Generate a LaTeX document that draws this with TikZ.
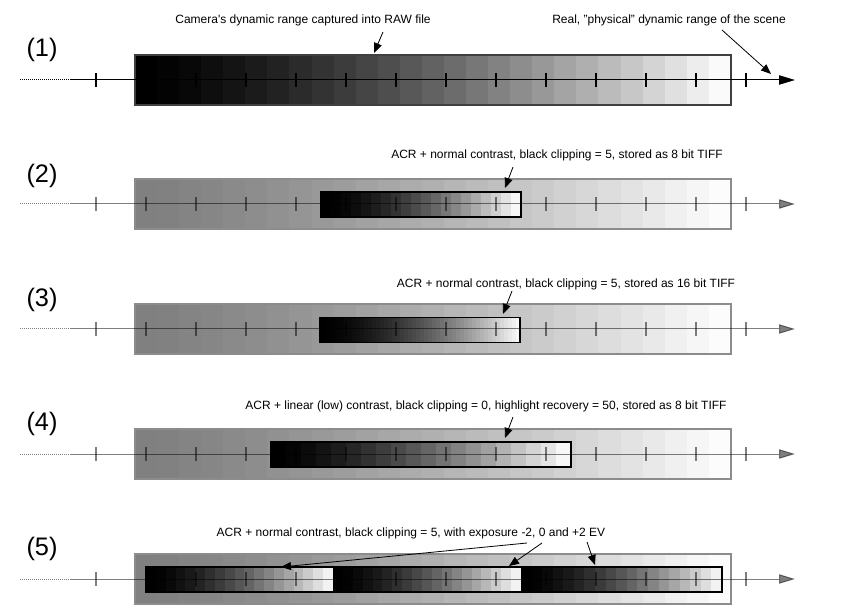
\documentclass[tikz,border=0pt]{standalone}
\usepackage{fontspec}
\setmainfont{Liberation Sans}
\usetikzlibrary{arrows.meta}

\tikzset{every picture/.style={line width=0.75pt}}
\tikzset{
  note/.style={inner sep=0.75pt, font=\fontsize{9}{11}\selectfont},
  rowlabel/.style={inner sep=0.75pt, font=\fontsize{19}{22}\selectfont},
  pointer/.style={-{Triangle[length=7.5pt,width=6pt]}, line width=0.6pt},
  axisline/.style={-{Triangle[length=12pt,width=7pt]}, line width=0.75pt},
  dotline/.style={dash pattern={on 0.75pt off 0.75pt}},
  tickmark/.style={line width=0.8pt},
  outerframe/.style={draw=black!45, line width=0.9pt},
  innerframe/.style={draw=black, line width=1pt},
}

\begin{document}
\begin{tikzpicture}[x=0.75pt,y=0.75pt,yscale=-1,xscale=1]
\useasboundingbox (0,0) rectangle (842,609);

%%%%%%%%%%%%%%%%%%%% Row (1)
% Bands
\foreach \i in {0,...,26}{
  \pgfmathsetmacro{\k}{100-98*((\i+0.001)/26)^1.35}
  \fill[black!\k] (135+22.07*\i,55) rectangle ({min(135+22.07*(\i+1)+0.6,731)},105);
}
\draw[draw=black!75, line width=1.1pt] (135,55) rectangle (731,105);
% Axis
\coordinate (dot1) at (20,80);
\coordinate (start1) at (70,80);
\coordinate (end1) at (795,80);
\draw[dotline] (dot1) -- (start1);
\draw[axisline] (start1) -- (end1);
\foreach \t in {0,...,13} \draw[tickmark, black] (96+50*\t,73) -- (96+50*\t,87);
% Text Node
\node[rowlabel] (lab1) at (42,50) {(1)};
\node[note] (camnote) at (303,20) {Camera\textquotesingle s dynamic range captured into RAW file};
\node[note] (realnote) at (669,20) {Real, "physical" dynamic range of the scene};
\coordinate (camtail) at (383,32);
\coordinate (camtip) at (374,53);
\coordinate (realtail) at (722,30);
\coordinate (realtip) at (771,74);
\draw[pointer] (camtail) -- (camtip);
\draw[pointer] (realtail) -- (realtip);

%%%%%%%%%%%%%%%%%%%% Row (2)
\foreach \i in {0,...,26}{
  \pgfmathsetmacro{\k}{50-49*((\i+0.001)/26)^1.35}
  \fill[black!\k] (135+22.07*\i,179) rectangle ({min(135+22.07*(\i+1)+0.6,731)},229);
}
\draw[outerframe] (135,179) rectangle (731,229);
\foreach \i in {0,...,19}{
  \pgfmathsetmacro{\k}{100-97*((\i+0.001)/19)^1.6}
  \fill[black!\k] (321+10*\i,192) rectangle ({min(321+10*(\i+1)+0.5,521)},217);
}
\draw[innerframe] (321,192) rectangle (521,217);
% Axis
\coordinate (dot2) at (20,204);
\coordinate (start2) at (70,204);
\coordinate (end2) at (795,204);
\draw[dotline, black!50] (dot2) -- (start2);
\draw[axisline, draw opacity=0.5, fill opacity=0.5] (start2) -- (end2);
\foreach \t in {0,...,13} \draw[tickmark, draw opacity=0.5] (96+50*\t,197) -- (96+50*\t,211);
% Text Node
\node[rowlabel] (lab2) at (42,176) {(2)};
\node[note] (note2) at (557,155) {ACR + normal contrast, black clipping = 5, stored as 8 bit TIFF};
\coordinate (tail2) at (513,167);
\coordinate (tip2) at (505,188);
\draw[pointer] (tail2) -- (tip2);

%%%%%%%%%%%%%%%%%%%% Row (3)
\foreach \i in {0,...,26}{
  \pgfmathsetmacro{\k}{50-49*((\i+0.001)/26)^1.35}
  \fill[black!\k] (135+22.07*\i,304) rectangle ({min(135+22.07*(\i+1)+0.6,731)},354);
}
\draw[outerframe] (135,304) rectangle (731,354);
\foreach \i in {0,...,49}{
  \pgfmathsetmacro{\k}{100-97*((\i+0.001)/49)^1.6}
  \fill[black!\k] (320+4*\i,317.5) rectangle ({min(320+4*(\i+1)+0.5,520)},342.5);
}
\draw[innerframe] (320,317.5) rectangle (520,342.5);
% Axis
\coordinate (dot3) at (20,329);
\coordinate (start3) at (70,329);
\coordinate (end3) at (795,329);
\draw[dotline, black!50] (dot3) -- (start3);
\draw[axisline, draw opacity=0.5, fill opacity=0.5] (start3) -- (end3);
\foreach \t in {0,...,13} \draw[tickmark, draw opacity=0.5] (96+50*\t,322) -- (96+50*\t,336);
% Text Node
\node[rowlabel] (lab3) at (42,300) {(3)};
\node[note] (note3) at (566,284) {ACR + normal contrast, black clipping = 5, stored as 16 bit TIFF};
\coordinate (tail3) at (512,291);
\coordinate (tip3) at (503,314);
\draw[pointer] (tail3) -- (tip3);

%%%%%%%%%%%%%%%%%%%% Row (4)
\foreach \i in {0,...,26}{
  \pgfmathsetmacro{\k}{50-49*((\i+0.001)/26)^1.35}
  \fill[black!\k] (135+22.07*\i,429) rectangle ({min(135+22.07*(\i+1)+0.6,731)},479);
}
\draw[outerframe] (135,429) rectangle (731,479);
\foreach \i in {0,...,19}{
  \pgfmathsetmacro{\k}{100-97*((\i+0.001)/19)^1.4}
  \fill[black!\k] (271+15*\i,442) rectangle ({min(271+15*(\i+1)+0.5,571)},467);
}
\draw[innerframe] (271,442) rectangle (571,467);
% Axis
\coordinate (dot4) at (20,454);
\coordinate (start4) at (70,454);
\coordinate (end4) at (795,454);
\draw[dotline, black!50] (dot4) -- (start4);
\draw[axisline, draw opacity=0.5, fill opacity=0.5] (start4) -- (end4);
\foreach \t in {0,...,13} \draw[tickmark, draw opacity=0.5] (96+50*\t,447) -- (96+50*\t,461);
% Text Node
\node[rowlabel] (lab4) at (42,424) {(4)};
\node[note] (note4) at (486,406) {ACR + linear (low) contrast, black clipping = 0, highlight recovery = 50, stored as 8 bit TIFF};
\coordinate (tail4) at (513,417);
\coordinate (tip4) at (505,438);
\draw[pointer] (tail4) -- (tip4);

%%%%%%%%%%%%%%%%%%%% Row (5)
\foreach \i in {0,...,26}{
  \pgfmathsetmacro{\k}{50-49*((\i+0.001)/26)^1.35}
  \fill[black!\k] (135+22.07*\i,554) rectangle ({min(135+22.07*(\i+1)+0.6,731)},604);
}
\draw[outerframe] (135,554) rectangle (731,604);
\foreach \a/\b in {146/333, 333/521, 521/722}{
  \foreach \i in {0,...,18}{
    \pgfmathsetmacro{\k}{100-95*((\i+0.001)/18)^1.5}
    \pgfmathsetmacro{\w}{(\b-\a)/19}
    \fill[black!\k] (\a+\w*\i,567) rectangle ({min(\a+\w*(\i+1)+0.5,\b)},592);
  }
}
\draw[innerframe] (146,567) rectangle (722,592);
% Axis
\coordinate (dot5) at (20,579);
\coordinate (start5) at (70,579);
\coordinate (end5) at (795,579);
\draw[dotline, black!50] (dot5) -- (start5);
\draw[axisline, draw opacity=0.5, fill opacity=0.5] (start5) -- (end5);
\foreach \t in {0,...,13} \draw[tickmark, draw opacity=0.5] (96+50*\t,572) -- (96+50*\t,586);
% Text Node
\node[rowlabel] (lab5) at (42,549) {(5)};
\node[note] (note5) at (411,533) {ACR + normal contrast, black clipping = 5, with exposure -2, 0 and +2 EV};
\coordinate (tail5a) at (527,543);
\coordinate (tip5a) at (281,567);
\coordinate (tail5b) at (542,543);
\coordinate (tip5b) at (509,566);
\coordinate (tail5c) at (587,542);
\coordinate (tip5c) at (595,565);
\draw[pointer] (tail5a) -- (tip5a);
\draw[pointer] (tail5b) -- (tip5b);
\draw[pointer] (tail5c) -- (tip5c);

\end{tikzpicture}
\end{document}
